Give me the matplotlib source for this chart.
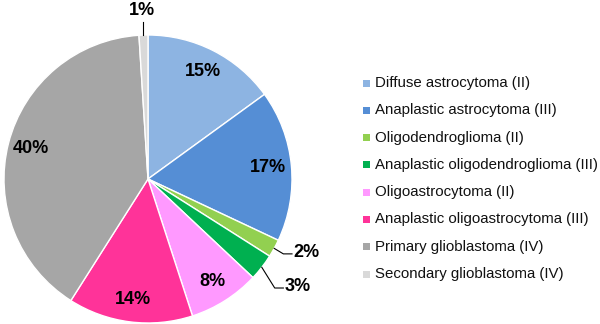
import numpy as np
import matplotlib
matplotlib.use('Agg')
import matplotlib.pyplot as plt
from matplotlib.patches import Rectangle

plt.rcParams['font.family'] = ['Liberation Sans', 'DejaVu Sans']

# Glioma subtypes and their share (%)
categories = [
    'Diffuse astrocytoma (II)',
    'Anaplastic astrocytoma (III)',
    'Oligodendroglioma (II)',
    'Anaplastic oligodendroglioma (III)',
    'Oligoastrocytoma (II)',
    'Anaplastic oligoastrocytoma (III)',
    'Primary glioblastoma (IV)',
    'Secondary glioblastoma (IV)',
]
shares = [15, 17, 2, 3, 8, 14, 40, 1]
colors = ['#8DB4E2', '#558ED5', '#92D050', '#00B050',
          '#FF99FF', '#FF3399', '#A6A6A6', '#D9D9D9']

W, H = 600, 324
fig = plt.figure(figsize=(W / 100, H / 100), dpi=100)

# pie centred at (148, 179) px, radius 144 px
cx, cy, r = 148, 179, 144
ax = fig.add_axes([(cx - r) / W, (H - cy - r) / H, 2 * r / W, 2 * r / H])

wedges, _ = ax.pie(shares, colors=colors, startangle=90, counterclock=False,
                   radius=1, wedgeprops=dict(edgecolor='white', linewidth=1))
ax.set_xlim(-1, 1)
ax.set_ylim(-1, 1)
ax.set_aspect('equal')

label_font = dict(fontsize=13, fontweight='bold', color='black')

# labels inside the big slices, leader lines for the small ones
outside = {2: ((0.94, -0.52), (1.0, -0.52), 'left'),
           3: ((0.88, -0.757), (0.94, -0.757), 'left'),
           7: (None, None, 'center')}
for i, (w, v) in enumerate(zip(wedges, shares)):
    mid = np.deg2rad((w.theta1 + w.theta2) / 2)
    ex, ey = np.cos(mid), np.sin(mid)
    if i not in outside:
        ax.text(0.84 * ex, 0.84 * ey, f'{v}%', ha='center', va='center', **label_font)
    elif i == 7:
        ax.plot([ex, ex], [ey, 1.09], color='black', lw=0.8, clip_on=False)
        ax.text(ex - 0.01, 1.17, f'{v}%', ha='center', va='center', **label_font)
    else:
        elbow, end, ha = outside[i]
        ax.plot([ex, elbow[0], end[0]], [ey, elbow[1], end[1]],
                color='black', lw=0.8, clip_on=False)
        ax.text(end[0] + 0.012, end[1] + 0.01, f'{v}%', ha=ha, va='center', **label_font)

# legend, drawn by hand to match row spacing
row0, step = 83, 27.3
for i, (name, c) in enumerate(zip(categories, colors)):
    y = row0 + i * step
    fig.patches.append(Rectangle(((363) / W, 1 - (y + 3.5) / H), 7 / W, 7 / H,
                                 transform=fig.transFigure, facecolor=c,
                                 edgecolor='none'))
    fig.text(375 / W, 1 - y / H, name, fontsize=10.8, ha='left', va='center',
             color='#111111')

fig.savefig('out.png', dpi=100)
